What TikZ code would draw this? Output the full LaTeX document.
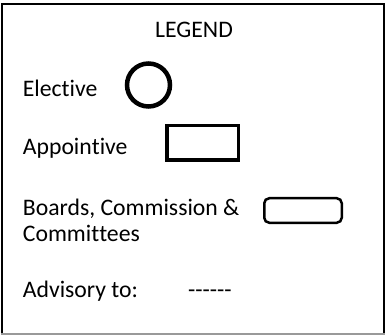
\documentclass[tikz,border=0pt]{standalone}
\usepackage{fontspec}
\setmainfont[Ligatures={NoCommon,NoRequired,NoContextual}]{Carlito}
\tikzset{
  lbl/.style={anchor=base west, inner sep=0pt, font=\fontsize{23.7}{27}\selectfont},
  frameline/.style={line width=2pt, black},
  elect/.style={circle, draw=black, line width=4.5pt, minimum size=43pt, inner sep=0pt},
  appoint/.style={rectangle, draw=black, line width=3.5pt, minimum width=71.5pt, minimum height=34.5pt, inner sep=0pt},
  board/.style={rectangle, rounded corners=5pt, draw=black, line width=2.5pt, minimum width=77.5pt, minimum height=24.5pt, inner sep=0pt}
}
\begin{document}
\begin{tikzpicture}[x=1pt, y=-1pt]
  \useasboundingbox (0,0) rectangle (387,336);
  \fill[white] (0,0) rectangle (387,336);
  % frame
  \draw[frameline] (2,334) -- (2,4.3) -- (383.5,4.3) -- (383.5,334);
  \draw[line width=2pt, gray!80] (1,334) -- (384.5,334);
  % title
  \node[lbl, anchor=base] (title) at (194,37.3) {LEGEND};
  % rows
  \node[lbl] (elective) at (22.7,96.7) {Elec\kern0pt tive};
  \node[elect] (circ) at (148.5,85) {};
  \node[lbl] (appointive) at (22.7,154.5) {Appoin\kern0pt tive};
  \node[lbl] (boards) at (22.7,215.5) {Boards, Commission \&};
  \node[lbl] (committees) at (22.7,241.5) {Commit\kern0pt tees};
  \node[appoint] (rect) at (202.5,143) {};
  \node[board] (rrect) at (303,210.5) {};
  \node[lbl] (advisory) at (22.7,297) {Advisory to:};
  \node[lbl] (dashes) at (188,297) {-{}-{}-{}-{}-{}-};
\end{tikzpicture}
\end{document}
